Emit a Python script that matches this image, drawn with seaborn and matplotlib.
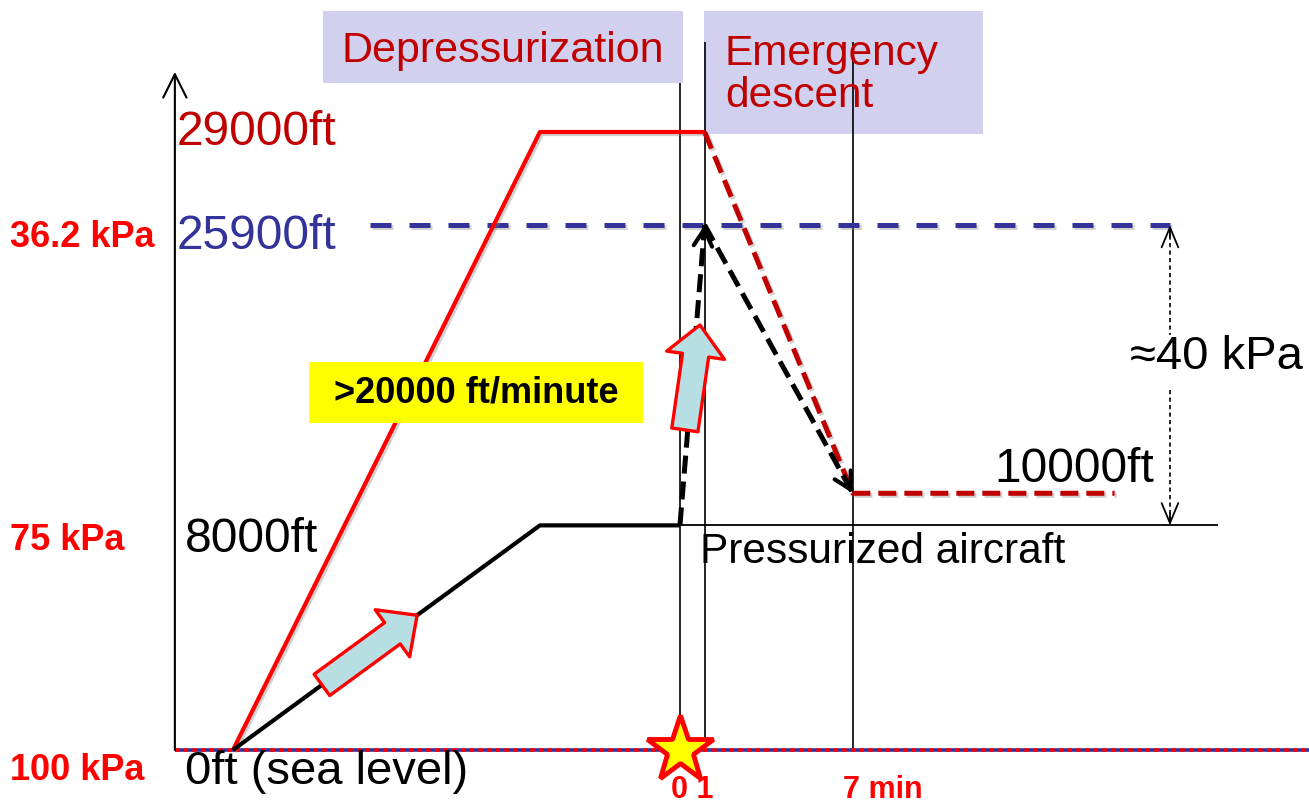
#!/usr/bin/env python3
import numpy as np
import pandas as pd
import seaborn as sns
import matplotlib.pyplot as plt
import matplotlib.patheffects as pe
from matplotlib.patches import Rectangle, FancyArrowPatch
from matplotlib.transforms import ScaledTranslation

# schematic time axis (minutes, 0 = depressurization) and cabin/flight level in kPa
t_ramp_start = -18.1
t_climb_end = -5.67
t_breach = 0.0
t_descent_start = 1.0
t_descent_end = 7.0
t_level_end = 17.6
t_limit_line = 19.84

kpa_sea = 100.0
kpa_cabin = 72.7       # 8000 ft cabin altitude
kpa_cruise = 24.9      # 29000 ft flight level (as drawn)
kpa_peak = 36.2        # 25900 ft cabin altitude after breach
kpa_safe = 68.8        # 10000 ft

flight_t = [t_ramp_start, t_climb_end, t_descent_start]
flight_kpa = [kpa_sea, kpa_cruise, kpa_cruise]
descent_t = [t_descent_start, t_descent_end, t_level_end]
descent_kpa = [kpa_cruise, kpa_safe, kpa_safe]
cabin_t = [t_ramp_start, t_climb_end, t_breach]
cabin_kpa = [kpa_sea, kpa_cabin, kpa_cabin]

kpa_labels = ["36.2 kPa", "75 kPa", "100 kPa"]
kpa_label_levels = [kpa_peak, kpa_cabin, kpa_sea]
time_ticks = [t_breach, t_descent_start, t_descent_end]
time_tick_labels = ["0 1", "7 min"]

DARKRED = "#c00000"
RED = "#ff0000"
NAVY = "#333399"
LAVENDER = "#d1d1ef"
ARROWFILL = "#b7dee3"

sns.set_theme(style="white")
plt.rcParams["font.family"] = ["Liberation Sans", "DejaVu Sans"]
plt.rcParams["text.color"] = "black"

fig = plt.figure(figsize=(13.09, 8.06), dpi=100)
ax = fig.add_axes([0, 0, 1, 1])
ax.set_xlim(-27.53, 25.47)
ax.set_ylim(106.8, 8.86)
ax.axis("off")

shadow = [pe.SimpleLineShadow(offset=(1.5, -1.5), shadow_color="gray", alpha=0.35), pe.Normal()]


def shifted(dy_in):
    return ax.transData + ScaledTranslation(0, dy_in, fig.dpi_scale_trans)


def line(x, y, color, lw, dashes=None, effects=None, z=3):
    sns.lineplot(x=x, y=y, sort=False, estimator=None, color=color, lw=lw, ax=ax, zorder=z)
    ln = ax.lines[-1]
    ln.set_solid_capstyle("butt")
    if dashes is not None:
        ln.set_dashes(dashes)
        ln.set_dash_capstyle("butt")
    if effects is not None:
        ln.set_path_effects(effects)
    return ln


def head(tip, back, color, lw, hl, hw):
    tail = (tip[0] + (back[0] - tip[0]) * 0.04, tip[1] + (back[1] - tip[1]) * 0.04)
    ax.annotate("", xy=tip, xytext=tail, zorder=6,
                arrowprops=dict(arrowstyle=f"->,head_length={hl},head_width={hw}",
                                color=color, lw=lw, shrinkA=0, shrinkB=0))


# phase boxes
ax.add_patch(Rectangle((-14.45, 10.2), 14.57, 8.75, color=LAVENDER, lw=0, zorder=1))
ax.add_patch(Rectangle((0.97, 10.2), 11.3, 14.94, color=LAVENDER, lw=0, zorder=1))
ax.text(-7.17, 15.0, "Depressurization", color=DARKRED, fontsize=31, ha="center", va="center", zorder=7)
ax.text(1.82, 18.0, "Emergency\ndescent", color=DARKRED, fontsize=30.5, ha="left", va="center",
        linespacing=1.06, zorder=7)

# time markers
ax.vlines(t_breach, 18.95, kpa_sea, color="black", lw=1.2, zorder=2)
ax.vlines([t_descent_start, t_descent_end], 13.96, kpa_sea, color="black", lw=1.2, zorder=2)

# axes
axis_t = -20.45
ax.annotate("", xy=(axis_t, 17.6), xytext=(axis_t, kpa_sea), zorder=4,
            arrowprops=dict(arrowstyle="->,head_length=1.4,head_width=0.7", color="black", lw=1.5,
                            shrinkA=0, shrinkB=0))
line([axis_t, 25.47], [kpa_sea, kpa_sea], NAVY, 2.6, z=3)
line([axis_t, 25.47], [kpa_sea, kpa_sea], RED, 2.6, dashes=(1.2, 1.2), z=3)

# 25900 ft reference
line([-12.55, t_limit_line], [kpa_peak, kpa_peak], NAVY, 3.6, dashes=(4.2, 3.6), effects=shadow)

# aircraft altitude
line(flight_t, flight_kpa, RED, 3.0, effects=shadow, z=4)
line(descent_t, descent_kpa, DARKRED, 3.6, dashes=(3.6, 1.6), effects=shadow, z=4)

# cabin altitude
line(cabin_t, cabin_kpa, "black", 3.0, z=4)
line([t_breach, 21.78], [kpa_cabin, kpa_cabin], "black", 1.3, z=3)
line([t_breach, t_descent_start], [kpa_cabin, kpa_peak], "black", 3.6, dashes=(3.6, 1.6), z=5)
head((t_descent_start, kpa_peak), (t_breach, kpa_cabin), "black", 3.0, 1.0, 0.55)
line([t_descent_start, t_descent_end], [kpa_peak, kpa_safe], "black", 3.6, dashes=(3.6, 1.6), z=5)
head((t_descent_end, kpa_safe), (t_descent_start, kpa_peak), "black", 3.0, 1.0, 0.55)

# block arrows
frac = np.array([0.29, 0.60])
ramp_t = np.interp(frac, [0, 1], cabin_t[:2])
ramp_k = np.interp(frac, [0, 1], cabin_kpa[:2])
for (x0, y0), (x1, y1) in [((ramp_t[0], ramp_k[0]), (ramp_t[1], ramp_k[1])),
                           ((0.20, 61.1), (0.81, 48.35))]:
    ax.add_patch(FancyArrowPatch((x0, y0), (x1, y1), zorder=6,
                                 arrowstyle="simple,head_length=22,head_width=42,tail_width=19",
                                 mutation_scale=1, shrinkA=0, shrinkB=0,
                                 facecolor=ARROWFILL, edgecolor=RED, lw=2.4))

# pressure difference
line([t_limit_line, t_limit_line], [kpa_peak + 0.4, 49.6], "black", 1.2, dashes=(2.5, 2.0))
line([t_limit_line, t_limit_line], [56.25, kpa_cabin - 0.4], "black", 1.2, dashes=(2.5, 2.0))
head((t_limit_line, kpa_peak), (t_limit_line, kpa_cabin), "black", 1.3, 1.2, 0.5)
head((t_limit_line, kpa_cabin), (t_limit_line, kpa_peak), "black", 1.3, 1.2, 0.5)
ax.text(18.22, 52.24, "≈40 kPa", fontsize=34, ha="left", va="center")

# rate box
ax.add_patch(Rectangle((-15.02, 52.85), 13.52, 7.41, color="#ffff00", lw=0, zorder=5))
ax.text(-8.26, 56.6, ">20000 ft/minute", fontsize=26, fontweight="bold", ha="center", va="center", zorder=7)

# altitude labels
ax.text(-20.36, kpa_cruise, "29000ft", color=DARKRED, fontsize=34.5, ha="left", va="center")
ax.text(-20.36, kpa_peak, "25900ft", color=NAVY, fontsize=34.5, ha="left", va="center",
        transform=shifted(-0.12))
ax.text(-20.04, kpa_cabin, "8000ft", fontsize=34.5, ha="left", va="center", transform=shifted(-0.14))
ax.text(-20.04, kpa_sea, "0ft (sea level)", fontsize=34, ha="left", va="center", transform=shifted(-0.22))
ax.text(12.75, 65.97, "10000ft", fontsize=34.5, ha="left", va="center")
ax.text(0.81, 75.94, "Pressurized aircraft", fontsize=30.5, ha="left", va="center")

# pressure labels
for lab, lev, dy in zip(kpa_labels, kpa_label_levels, [-0.13, -0.15, -0.2]):
    ax.text(-27.13, lev, lab, color=RED, fontsize=26, fontweight="bold", ha="left", va="center",
            transform=shifted(dy))

# breach star
ax.plot([t_breach], [kpa_sea], marker="*", markersize=50, markerfacecolor="#ffff00",
        markeredgecolor=RED, markeredgewidth=3.5, zorder=8, clip_on=False)

# time labels (kept just inside the bottom edge)
ax.text(np.mean(time_ticks[:2]), 106.72, time_tick_labels[0], color=RED, fontsize=22,
        fontweight="bold", ha="center", va="bottom", zorder=9)
ax.text(time_ticks[2] + 1.2, 106.72, time_tick_labels[1], color=RED, fontsize=22,
        fontweight="bold", ha="center", va="bottom", zorder=9)

fig.savefig("out.png", dpi=100)
